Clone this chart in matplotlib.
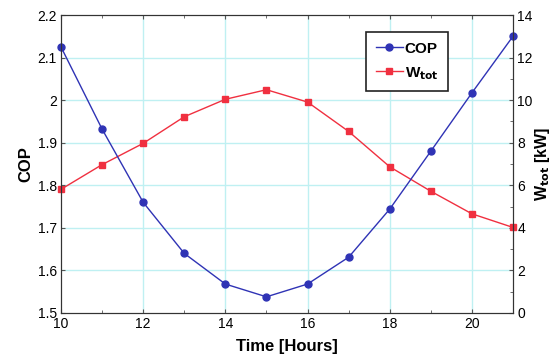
import numpy as np
import matplotlib.pyplot as plt

plt.rcParams['font.family'] = ['Liberation Sans', 'DejaVu Sans']

# data
hours = np.array([10, 11, 12, 13, 14, 15, 16, 17, 18, 19, 20, 21])
cop = np.array([2.125, 1.932, 1.760, 1.640, 1.568, 1.538,
                1.568, 1.631, 1.744, 1.880, 2.017, 2.150])
w_tot = np.array([5.81, 6.97, 7.97, 9.22, 10.04, 10.49,
                  9.91, 8.53, 6.87, 5.72, 4.66, 4.02])  # [kW]

fig = plt.figure(figsize=(5.51, 3.58), dpi=100)
ax = fig.add_axes([0.1107, 0.1257, 0.8203, 0.8324])
ax2 = ax.twinx()

ax.set_zorder(ax2.get_zorder() + 1)
ax.patch.set_visible(False)

# grid (cyan) on the left axis scale
ax2.set_ylim(0, 14)
ax.set_xlim(10, 21)
ax.set_ylim(1.5, 2.2)
ax.set_xticks(np.arange(10, 21, 2))
ax.set_xticks(np.arange(11, 22, 2), minor=True)
ax.set_yticks(np.arange(1.5, 2.21, 0.1))
ax.set_yticklabels(['1.5', '1.6', '1.7', '1.8', '1.9', '2', '2.1', '2.2'])
ax2.set_yticks(np.arange(0, 15, 2))
ax2.set_yticks(np.arange(1, 14, 2), minor=True)

for x in np.arange(12, 21, 2):
    ax2.axvline(x, color='#bff0f2', lw=1, zorder=0)
for y in np.arange(2, 14, 2):
    ax2.axhline(y, color='#bff0f2', lw=1, zorder=0)

l1, = ax.plot(hours, cop, '-o', color='#2f33b5', ms=5, lw=1, label='COP', clip_on=False)
l2, = ax2.plot(hours, w_tot, '-s', color='#f03040', ms=5, lw=1, label='W$_{\\mathbf{tot}}$', clip_on=False)

ax.set_xlabel('Time [Hours]', fontsize=12, fontweight='bold', labelpad=6)
ax.set_ylabel('COP', fontsize=12, fontweight='bold', labelpad=3)
ax2.set_ylabel('W$_{\\mathbf{tot}}$ [kW]', fontsize=11.5, fontweight='bold', labelpad=0)

for a in (ax, ax2):
    a.tick_params(which='both', direction='in', labelsize=10, color='#555555', pad=3)
    a.tick_params(which='major', length=3)
    a.tick_params(which='minor', length=2)
    for s in a.spines.values():
        s.set_color('#333333')
ax.tick_params(top=True, which='both')

leg = ax.legend(handles=[l1, l2], loc='upper left', bbox_to_anchor=(0.659, 0.967),
                fancybox=False, edgecolor='#222222', framealpha=1,
                prop={'weight': 'bold', 'size': 11}, handlelength=1.8,
                handletextpad=0.1, borderpad=0.6, labelspacing=0.6)
leg.get_frame().set_linewidth(1.2)

plt.savefig('out.png', dpi=100)
